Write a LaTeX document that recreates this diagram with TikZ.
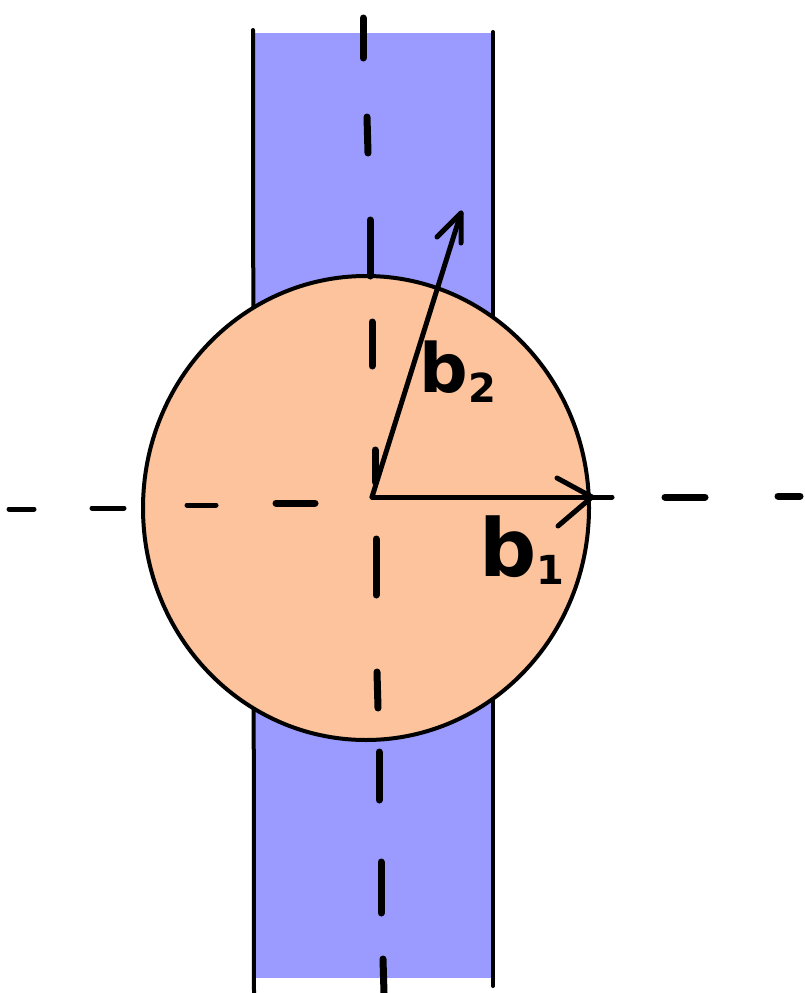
\documentclass[tikz,border=0pt]{standalone}
\usepackage{fontspec}
\setsansfont{DejaVu Sans}
\definecolor{stripblue}{HTML}{9B9BFF}
\definecolor{disc}{HTML}{FCC39C}
\begin{document}
\begin{tikzpicture}[x=1pt,y=-1pt,
  edge/.style={line width=4pt,line cap=round},
  dashbit/.style={line width=7pt,line cap=round},
  thindash/.style={line width=5pt,line cap=round},
  vec/.style={line width=5pt,line cap=round,line join=round},
  lbl/.style={font=\sffamily\bfseries,inner sep=0pt}]
\useasboundingbox (0,0) rectangle (805,993);
% strip
\fill[stripblue] (253,33) rectangle (493,978);
\draw[edge] (253,30) -- (254,993);
\draw[edge] (493,32) -- (493,986);
% disc
\filldraw[fill=disc,draw=black,line width=4pt] (366,508) ellipse [x radius=223,y radius=232];
% vertical axis dashes
\draw[dashbit] (363,18) -- (363,58);
\draw[dashbit] (367,117) -- (368,153);
\draw[dashbit] (370,220) -- (370,276);
\draw[dashbit] (372,322) -- (372,366);
\draw[dashbit] (375,450) -- (375,482);
\draw[dashbit] (376,539) -- (376,595);
\draw[dashbit] (377,672) -- (378,708);
\draw[dashbit] (379,752) -- (379,800);
\draw[dashbit] (381,862) -- (381,913);
\draw[dashbit] (383,959) -- (384,993);
% horizontal axis dashes
\draw[thindash] (9,509) -- (34,509);
\draw[thindash] (92,508) -- (124,508);
\draw[thindash] (187,505) -- (216,505);
\draw[dashbit] (276,503) -- (315,503);
\draw[dashbit] (665,497) -- (705,497);
\draw[dashbit] (778,496) -- (800,496);
% vectors
\coordinate (o) at (372,497);
\coordinate (t1) at (592,497);
\coordinate (e1) at (612,497);
\coordinate (t2) at (461,213);
\draw[vec] (o) -- (e1);
\draw[vec] (557,478) -- (t1) -- (558,526);
\draw[vec] (o) -- (t2);
\draw[vec] (437,237) -- (t2) -- (461,243);
% labels
\node[lbl] (b2) at (458,372) {\fontsize{68}{68}\selectfont b\raisebox{-10pt}{\fontsize{40}{40}\selectfont 2}};
\node[lbl] (b1) at (522,550) {\fontsize{80}{80}\selectfont b\raisebox{-8pt}{\fontsize{40}{40}\selectfont 1}};
\end{tikzpicture}
\end{document}
